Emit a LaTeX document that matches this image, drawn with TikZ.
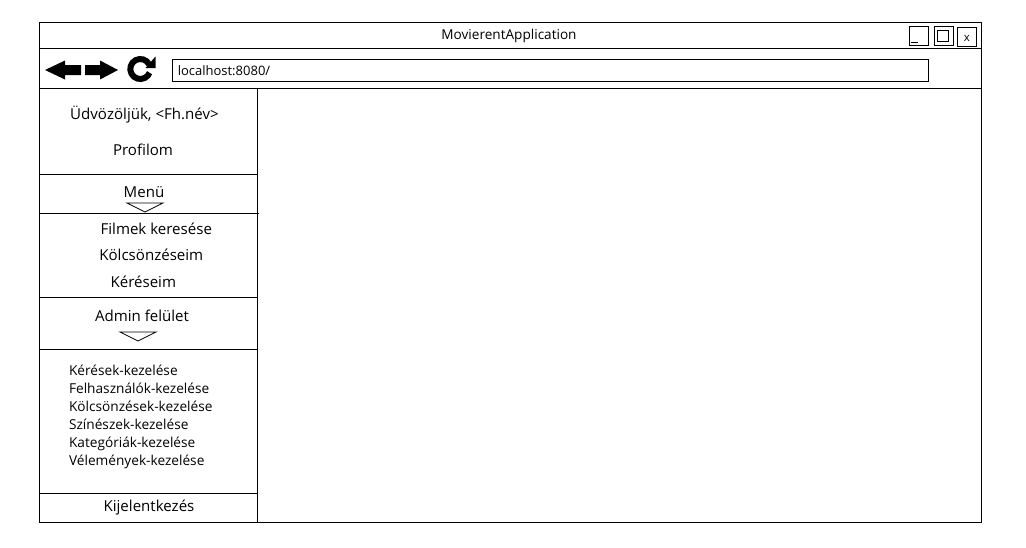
\documentclass[tikz,border=0pt]{standalone}
\usepackage{fontspec}
\setmainfont{Open Sans}
\begin{document}
\begin{tikzpicture}[x=0.75pt,y=-0.75pt,
  frame/.style={draw=black,line width=0.75pt},
  big/.style={font=\fontsize{11.3pt}{13pt}\selectfont,text=black,inner sep=0pt,anchor=base},
  small/.style={font=\fontsize{10.25pt}{12pt}\selectfont,text=black,inner sep=0pt,anchor=base west},
  mid/.style={font=\fontsize{10.2pt}{12pt}\selectfont,text=black,inner sep=0pt,anchor=base},
  caret/.style={draw=black,line width=0.6pt,fill=white,line join=miter}]
\useasboundingbox (0,0) rectangle (1026,547);
\fill[white] (0,0) rectangle (1026,547);
% outer frame and bands
\draw[frame] (39.5,22.5) rectangle (981.5,522.5);
\draw[frame] (39.5,48.5) -- (981.5,48.5);
\draw[frame] (39.5,88.5) -- (981.5,88.5);
\draw[frame] (257.5,88.5) -- (257.5,522.5);
\draw[frame] (39.5,174.5) -- (257.5,174.5);
\draw[frame] (39.5,213.5) -- (258.5,213.5);
\draw[frame] (39.5,297.5) -- (257.5,297.5);
\draw[frame] (39.5,349.5) -- (257.5,349.5);
\draw[frame] (39.5,493.5) -- (257.5,493.5);
% title bar
\node[mid] (title) at (509,39) {MovierentApplication};
\draw[frame] (909.5,26.5) rectangle (928.5,45.5);
\draw[black,line width=0.85pt] (911,42.5) -- (918,42.5);
\draw[frame] (934.5,26.5) rectangle (953.5,45.5);
\draw[frame] (937.5,30.5) rectangle (948.5,41.5);
\draw[frame] (957.5,27.5) rectangle (976.5,46.5);
\node[font=\fontsize{8.5pt}{10pt}\selectfont,inner sep=0pt,anchor=base] (closex) at (966.8,41) {x};
% navigation
\fill[black] (45,70) -- (65,60.5) -- (65,65) -- (81,65) -- (81,75) -- (65,75) -- (65,79.5) -- cycle;
\fill[black] (118,70) -- (100,60.5) -- (100,65) -- (85,65) -- (85,75) -- (100,75) -- (100,79.5) -- cycle;
\coordinate (reload) at (140.3,69);
\draw[black,line width=4.5pt] (reload) ++(28:7.5pt) arc[start angle=28,end angle=338,radius=7.5pt];
\fill[black] (155.5,56.5) -- (155.5,68) -- (145.5,68) -- cycle;
\draw[frame] (172.5,59.5) rectangle (928.5,81.5);
\node[mid,anchor=base west,font=\fontsize{9.75pt}{11pt}\selectfont] (urltext) at (177.5,75) {localhost:8080/};
% sidebar
\node[big] (welcome) at (144.5,119) {Üdvözöljük, <Fh.név>};
\node[big] (profile) at (143,155) {Profilom};
\node[big] (menu) at (144,197) {Menü};
\draw[caret] (127,203) -- (163,203) -- (145,212) -- cycle;
\node[big] (search) at (156.3,234) {Filmek keresése};
\node[big] (rentals) at (151.3,260) {Kölcsönzéseim};
\node[big] (requests) at (143.3,287) {Kéréseim};
\node[big] (admin) at (142,321) {Admin felület};
\draw[caret] (120,332) -- (156,332) -- (138,341) -- cycle;
\node[small] (m1) at (68.8,375) {Kérések-kezelése};
\node[small] (m2) at (68.8,393) {Felhasználók-kezelése};
\node[small] (m3) at (68.8,411) {Kölcsönzések-kezelése};
\node[small] (m4) at (68.8,429) {Színészek-kezelése};
\node[small] (m5) at (68.8,447) {Kategóriák-kezelése};
\node[small] (m6) at (68.8,465) {Vélemények-kezelése};
\node[big] (logout) at (149,511) {Kijelentkezés};
\end{tikzpicture}
\end{document}
